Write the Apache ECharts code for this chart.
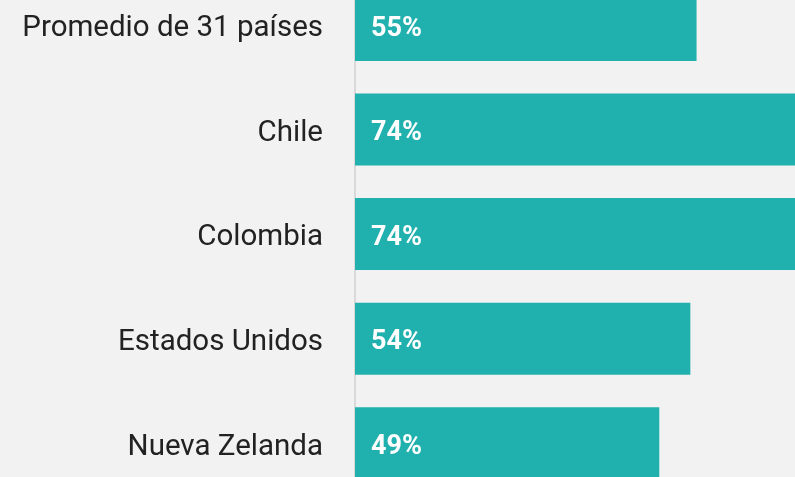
<!DOCTYPE html>
<html>
<head>
<meta charset="utf-8">
<script src="https://cdn.jsdelivr.net/npm/echarts@6/dist/echarts.min.js"></script>
<style>
  html, body { margin: 0; padding: 0; background: #f2f2f2; }
  #chart { width: 795px; height: 477px; }
</style>
</head>
<body>
<div id="chart"></div>
<script>
// datos
const paises = ['Promedio de 31 países', 'Chile', 'Colombia', 'Estados Unidos', 'Nueva Zelanda'];
const valores = [55, 74, 74, 54, 49];

let myChart = echarts.init(document.getElementById('chart'));
let option = {
  backgroundColor: '#f2f2f2',
  animation: false,
  grid: {
    left: 355,
    top: -27.4,
    height: 523,
    width: 496.8,
    outerBoundsMode: 'none',
    containLabel: false
  },
  xAxis: {
    type: 'value',
    min: 0,
    max: 80,
    show: false
  },
  yAxis: {
    type: 'category',
    data: paises,
    inverse: true,
    axisTick: { show: false },
    axisLine: {
      show: true,
      lineStyle: { color: '#d9d9d9', width: 2 }
    },
    axisLabel: {
      margin: 32,
      formatter: '{n|{value}}',
      rich: {
        n: {
          color: '#222222',
          fontFamily: 'Roboto',
          fontSize: 29.5,
          padding: [8, 0, 0, 0]
        }
      }
    }
  },
  series: [
    {
      type: 'bar',
      data: valores,
      barWidth: 72,
      itemStyle: { color: '#20b0ad' },
      label: {
        show: true,
        position: 'insideLeft',
        distance: 16,
        offset: [0, 4],
        formatter: '{c}%',
        color: '#ffffff',
        fontFamily: 'Roboto',
        fontWeight: 'bold',
        fontSize: 27
      }
    }
  ]
};
myChart.setOption(option, true);
</script>
</body>
</html>
